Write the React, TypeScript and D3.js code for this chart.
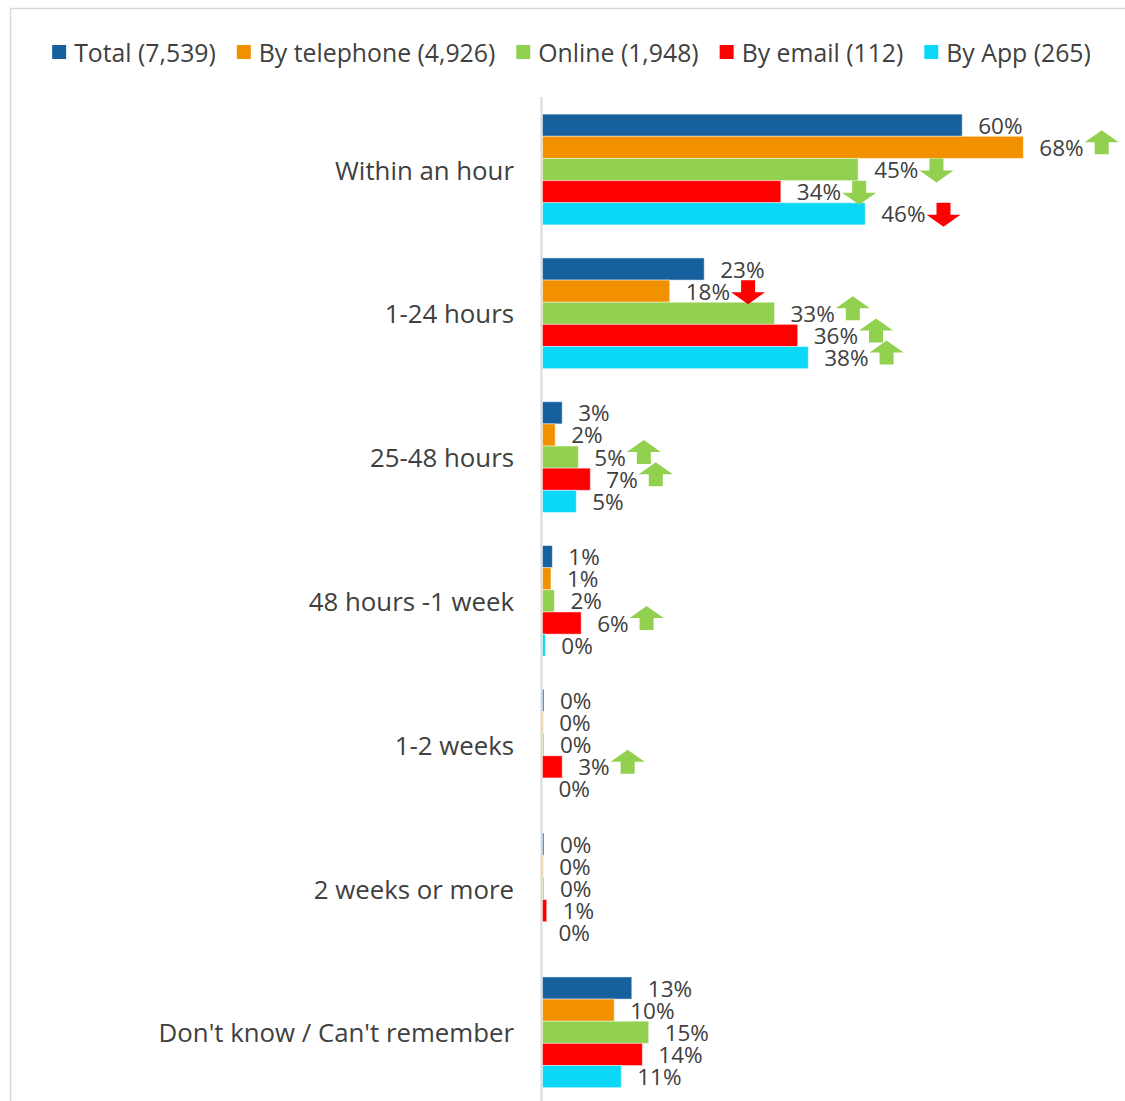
import React, { useEffect, useRef } from "react";
import * as d3 from "d3";

const categories = [
  "Within an hour",
  "1-24 hours",
  "25-48 hours",
  "48 hours -1 week",
  "1-2 weeks",
  "2 weeks or more",
  "Don't know / Can't remember",
];

const seriesNames = [
  "Total (7,539)",
  "By telephone (4,926)",
  "Online (1,948)",
  "By email (112)",
  "By App (265)",
];

const seriesColors = ["#17609E", "#F29100", "#92D050", "#FF0000", "#0AD8F6"];

// values in percent, per series, in category order
const totalValues = [59.7, 23.0, 2.8, 1.4, 0.2, 0.2, 12.7];
const telephoneValues = [68.4, 18.1, 1.8, 1.2, 0.1, 0.1, 10.2];
const onlineValues = [44.9, 33.0, 5.1, 1.7, 0.2, 0.2, 15.1];
const emailValues = [33.9, 36.3, 6.8, 5.5, 2.8, 0.6, 14.2];
const appValues = [45.9, 37.8, 4.8, 0.4, 0, 0, 11.2];

const seriesValues = [totalValues, telephoneValues, onlineValues, emailValues, appValues];

// significance arrows: category index, series index, direction, colour
const arrows = [
  { cat: 0, series: 1, dir: "up", color: "#92D050" },
  { cat: 0, series: 2, dir: "down", color: "#92D050" },
  { cat: 0, series: 3, dir: "down", color: "#92D050" },
  { cat: 0, series: 4, dir: "down", color: "#FF0000" },
  { cat: 1, series: 1, dir: "down", color: "#FF0000" },
  { cat: 1, series: 2, dir: "up", color: "#92D050" },
  { cat: 1, series: 3, dir: "up", color: "#92D050" },
  { cat: 1, series: 4, dir: "up", color: "#92D050" },
  { cat: 2, series: 2, dir: "up", color: "#92D050" },
  { cat: 2, series: 3, dir: "up", color: "#92D050" },
  { cat: 3, series: 3, dir: "up", color: "#92D050" },
  { cat: 4, series: 3, dir: "up", color: "#92D050" },
];

const W = 1125;
const H = 1101;
const FONT = "'Open Sans', sans-serif";
const TEXT = "#404040";

export default function App() {
  const ref = useRef<SVGSVGElement>(null);

  useEffect(() => {
    const svg = d3.select(ref.current);
    svg.selectAll("*").remove();

    // frame
    svg.append("rect").attr("x", 0).attr("y", 0).attr("width", W).attr("height", H).attr("fill", "#fff");
    svg.append("line").attr("x1", 10.5).attr("x2", W).attr("y1", 8.5).attr("y2", 8.5).attr("stroke", "#d9d9d9").attr("stroke-width", 1.5);
    svg.append("line").attr("x1", 10.5).attr("x2", 10.5).attr("y1", 8.5).attr("y2", H).attr("stroke", "#d9d9d9").attr("stroke-width", 1.5);

    const x0 = 542.5;
    const x = d3.scaleLinear().domain([0, 100]).range([x0, x0 + 703]);
    const y = d3
      .scaleBand<number>()
      .domain(d3.range(categories.length))
      .range([97.6, 97.6 + 7 * 143.8])
      .paddingInner(0.23)
      .paddingOuter(0.115);
    const ys = d3.scaleBand<number>().domain(d3.range(seriesNames.length)).range([0, y.bandwidth()]);

    // axis line
    svg.append("line").attr("x1", 541.5).attr("x2", 541.5).attr("y1", 97).attr("y2", H).attr("stroke", "#d9d9d9").attr("stroke-width", 2);

    // category labels
    svg
      .selectAll("text.cat")
      .data(categories)
      .join("text")
      .attr("class", "cat")
      .attr("x", 514)
      .attr("y", (_d, i) => (y(i) as number) + y.bandwidth() / 2)
      .attr("text-anchor", "end")
      .attr("dominant-baseline", "central")
      .attr("font-family", FONT)
      .attr("font-size", 25.8)
      .attr("fill", TEXT)
      .text((d) => d);

    const labelEnds: number[][] = categories.map(() => []);

    seriesValues.forEach((vals, s) => {
      const g = svg.append("g");
      g.selectAll("rect")
        .data(vals)
        .join("rect")
        .attr("x", x0)
        .attr("y", (_d, i) => (y(i) as number) + (ys(s) as number))
        .attr("width", (d) => Math.max(0, x(d) - x0))
        .attr("height", ys.bandwidth())
        .attr("fill", seriesColors[s])
        .attr("stroke", "rgba(255,255,255,0.45)")
        .attr("stroke-width", 1);
      g.selectAll("text")
        .data(vals)
        .join("text")
        .attr("x", (d) => x(d) + 16)
        .attr("y", (_d, i) => (y(i) as number) + (ys(s) as number) + ys.bandwidth() / 2)
        .attr("dominant-baseline", "central")
        .attr("font-family", FONT)
        .attr("font-size", 22.5)
        .attr("fill", TEXT)
        .text((d) => `${Math.round(d)}%`)
        .each(function (d, i) {
          const w = (this as SVGTextElement).getComputedTextLength();
          labelEnds[i][s] = x(d) + 16 + w;
        });
    });

    // arrows
    const aw = 34;
    const ah = 24;
    const headH = 12;
    const sw = 14;
    const upPath = (cx: number, top: number) =>
      `M${cx},${top} L${cx + aw / 2},${top + headH} L${cx + sw / 2},${top + headH} L${cx + sw / 2},${top + ah} L${cx - sw / 2},${top + ah} L${cx - sw / 2},${top + headH} L${cx - aw / 2},${top + headH} Z`;
    const downPath = (cx: number, top: number) =>
      `M${cx},${top + ah} L${cx + aw / 2},${top + ah - headH} L${cx + sw / 2},${top + ah - headH} L${cx + sw / 2},${top} L${cx - sw / 2},${top} L${cx - sw / 2},${top + ah - headH} L${cx - aw / 2},${top + ah - headH} Z`;

    svg
      .selectAll("path.arrow")
      .data(arrows)
      .join("path")
      .attr("class", "arrow")
      .attr("fill", (d) => d.color)
      .attr("d", (d) => {
        const cy = (y(d.cat) as number) + (ys(d.series) as number) + ys.bandwidth() / 2 + (d.dir === "up" ? -5 : 1);
        const cx = labelEnds[d.cat][d.series] + 1 + aw / 2;
        return d.dir === "up" ? upPath(cx, cy - ah / 2) : downPath(cx, cy - ah / 2);
      });

    // legend
    const legend = svg.append("g");
    const items = legend
      .selectAll("g")
      .data(seriesNames)
      .join("g");
    items
      .append("rect")
      .attr("width", 14)
      .attr("height", 14)
      .attr("y", 45)
      .attr("fill", (_d, i) => seriesColors[i]);
    items
      .append("text")
      .attr("x", 22)
      .attr("y", 51.5)
      .attr("dominant-baseline", "central")
      .attr("font-family", FONT)
      .attr("font-size", 24.8)
      .attr("fill", TEXT)
      .text((d) => d);
    const widths: number[] = [];
    items.each(function () {
      const t = d3.select(this).select("text").node() as SVGTextElement;
      widths.push(22 + t.getComputedTextLength());
    });
    const gap = 21;
    const total = d3.sum(widths) + gap * (widths.length - 1);
    let cx = 571.5 - total / 2;
    items.attr("transform", (_d, i) => {
      const t = `translate(${cx},0)`;
      cx += widths[i] + gap;
      return t;
    });
  }, []);

  return (
    <svg
      ref={ref}
      width={W}
      height={H}
      style={{ position: "absolute", left: 0, top: 0, display: "block" }}
    />
  );
}
